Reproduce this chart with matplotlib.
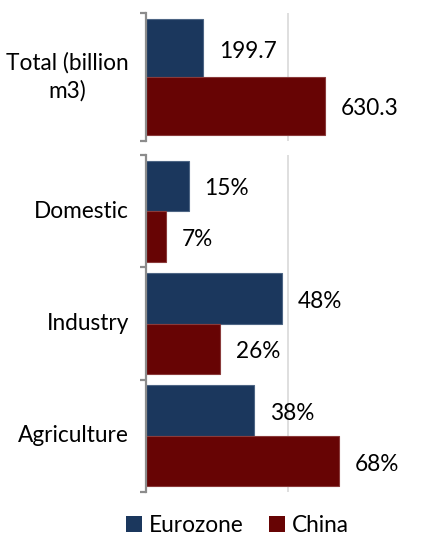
import matplotlib

matplotlib.use("Agg")
import matplotlib.pyplot as plt
from matplotlib.patches import Patch

plt.rcParams["font.family"] = ["Lato", "DejaVu Sans"]

# water withdrawal data
series_names = ["Eurozone", "China"]
series_colors = ["#1b375d", "#670404"]
edge_colors = ["#4d6584", "#8a3a3a"]

total_label = "Total (billion\nm3)"
total_values = [199.7, 630.3]

use_categories = ["Domestic", "Industry", "Agriculture"]
use_eurozone = [15, 48, 38]
use_china = [7, 26, 68]

W, H, DPI = 427, 537, 100
FS = 16.3
BAR_H = 0.45


def px_box(left, top, right, bottom):
    return [left / W, 1 - bottom / H, (right - left) / W, (bottom - top) / H]


def style_axis(ax, labels, grid_at):
    n_cats = len(labels)
    ax.set_ylim(n_cats - 0.5, -0.5)
    for side in ("top", "right", "bottom"):
        ax.spines[side].set_visible(False)
    ax.spines["left"].set_color("#8c8c8c")
    ax.spines["left"].set_linewidth(1.6)
    ax.set_xticks([])
    # boundary ticks between categories
    ax.set_yticks([i - 0.5 for i in range(n_cats + 1)])
    ax.set_yticklabels([])
    ax.tick_params(axis="y", length=4.5, width=1.6, color="#8c8c8c")
    for i, lab in enumerate(labels):
        ax.annotate(lab, (0, i), xycoords=("axes fraction", "data"),
                    xytext=(-17, 0), textcoords="offset pixels",
                    ha="right", va="center", multialignment="center",
                    linespacing=1.35, fontsize=FS)
    ax.axvline(grid_at, color="#d9d9d9", linewidth=1.2, zorder=0)


def draw_bars(ax, positions, values_a, values_b, fmt):
    ya = [p - BAR_H / 2 for p in positions]
    yb = [p + BAR_H / 2 for p in positions]
    for ys, vals, c, e in ((ya, values_a, series_colors[0], edge_colors[0]),
                           (yb, values_b, series_colors[1], edge_colors[1])):
        bars = ax.barh(ys, vals, height=BAR_H, color=c, edgecolor=e,
                       linewidth=0.8, zorder=2)
        for bar, v in zip(bars, vals):
            ax.annotate(fmt(v), (bar.get_width(), bar.get_y() + bar.get_height() / 2),
                        xytext=(16, -3), textcoords="offset pixels",
                        ha="left", va="center", fontsize=FS)


fig = plt.figure(figsize=(W / DPI, H / DPI), dpi=DPI)

ax_top = fig.add_axes(px_box(146, 13, 427, 141))
style_axis(ax_top, [total_label], 500)
ax_top.set_xlim(0, 990)
draw_bars(ax_top, [0], [total_values[0]], [total_values[1]], lambda v: f"{v:.1f}")

ax_bot = fig.add_axes(px_box(146, 155, 427, 492))
style_axis(ax_bot, use_categories, 50)
ax_bot.set_xlim(0, 99)
draw_bars(ax_bot, range(len(use_categories)), use_eurozone, use_china,
          lambda v: f"{v:d}%")

handles = [Patch(facecolor=c, edgecolor="none") for c in series_colors]
fig.legend(handles, series_names, loc="center", bbox_to_anchor=(0.556, 0.022),
           ncol=2, frameon=False, fontsize=FS, handlelength=0.7, handleheight=0.7,
           handletextpad=0.3, columnspacing=1.1)

fig.savefig("out.png", dpi=DPI)
